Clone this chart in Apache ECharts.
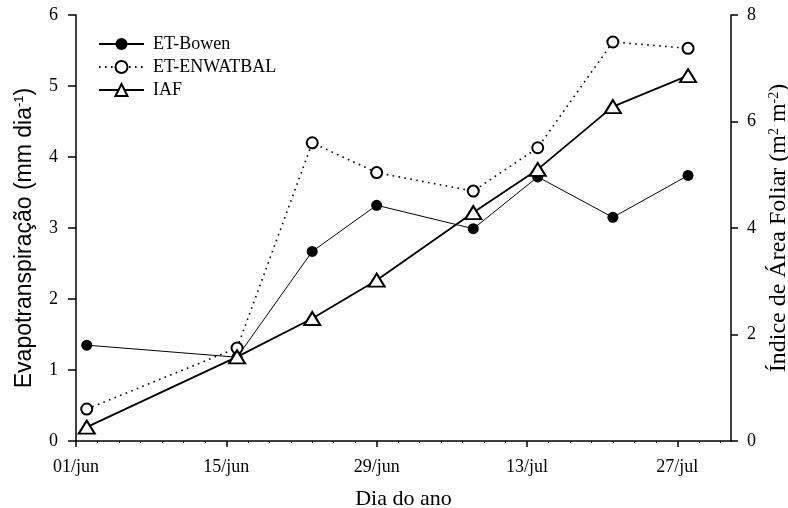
<!DOCTYPE html>
<html>
<head>
<meta charset="utf-8">
<script src="https://cdn.jsdelivr.net/npm/echarts@6/dist/echarts.min.js"></script>
<style>html,body{margin:0;padding:0;background:#fff;}#c{width:788px;height:508px;}</style>
</head>
<body>
<div id="c"></div>
<script>
// Days counted from 01/jun
const days = [1, 15, 22, 28, 37, 43, 50, 57];
const daysIAF = [1, 15, 22, 28, 37, 43, 50, 57];
const etBowen = [1.35, 1.18, 2.67, 3.32, 2.99, 3.72, 3.15, 3.74];
const etEnwatbal = [0.45, 1.31, 4.20, 3.78, 3.52, 4.13, 5.62, 5.53];
const iaf = [0.26, 1.58, 2.30, 3.02, 4.29, 5.10, 6.28, 6.86];
const xTickValues = [0, 14, 28, 42, 56];
const xTickLabels = ['01/jun', '15/jun', '29/jun', '13/jul', '27/jul'];

const serif = 'Liberation Serif';
const sans = 'Liberation Sans';
const pair = (xs, ys) => xs.map((x, i) => [x, ys[i]]);

const chart = echarts.init(document.getElementById('c'), null, {renderer: 'canvas'});
chart.setOption({
  animation: false,
  backgroundColor: '#fff',
  grid: {left: 76, right: 57, top: 15, bottom: 67, containLabel: false, outerBoundsMode: 'none'},
  legend: {
    left: 98, top: 35, orient: 'vertical', padding: 0,
    itemWidth: 45, itemHeight: 15, itemGap: 5,
    textStyle: {fontFamily: serif, fontSize: 18, color: '#000', padding: [0, 0, 0, 4]},
    data: ['ET-Bowen', 'ET-ENWATBAL', 'IAF']
  },
  xAxis: {
    type: 'value', min: 0, max: 61, interval: 14,
    name: 'Dia do ano', nameLocation: 'middle', nameGap: 47,
    nameTextStyle: {fontFamily: serif, fontSize: 22, color: '#000'},
    axisLine: {onZero: false, lineStyle: {color: '#000', width: 1.5}},
    axisTick: {inside: false, length: 6, lineStyle: {color: '#000', width: 1.5}, customValues: xTickValues},
    minorTick: {show: true, splitNumber: 7, length: 2, lineStyle: {color: '#000', width: 1}},
    axisLabel: {customValues: xTickValues, margin: 17, fontFamily: serif, fontSize: 18, color: '#000',
      formatter: v => { const i = xTickValues.indexOf(v); return i >= 0 ? xTickLabels[i] : ''; }},
    splitLine: {show: false}
  },
  yAxis: [
    {
      type: 'value', min: 0, max: 6, interval: 1, position: 'left',
      name: '{a|Evapotranspiração (mm dia}{s|-1}{a|)}', nameLocation: 'middle', nameGap: 40,
      nameTextStyle: {
        padding: [0, 20, 0, 0],
        rich: {
          a: {fontFamily: sans, fontSize: 23, color: '#000'},
          s: {fontFamily: sans, fontSize: 13, color: '#000', verticalAlign: 'top', lineHeight: 14}
        }
      },
      axisLine: {show: true, lineStyle: {color: '#000', width: 1.5}},
      axisTick: {inside: false, length: 8, lineStyle: {color: '#000', width: 1.5}},
      axisLabel: {margin: 18, fontFamily: serif, fontSize: 18, color: '#000'},
      splitLine: {show: false}
    },
    {
      type: 'value', min: 0, max: 8, interval: 2, position: 'right',
      name: '{a|Índice de Área Foliar (m}{s|2}{a| m}{s|-2}{a|)}', nameLocation: 'middle', nameGap: 34,
      nameRotate: 90,
      nameTextStyle: {
        rich: {
          a: {fontFamily: serif, fontSize: 24, color: '#000'},
          s: {fontFamily: serif, fontSize: 14, color: '#000', verticalAlign: 'top', lineHeight: 14}
        }
      },
      axisLine: {show: true, lineStyle: {color: '#000', width: 1.5}},
      axisTick: {inside: false, length: 7, lineStyle: {color: '#000', width: 1.5}},
      axisLabel: {margin: 16, fontFamily: serif, fontSize: 18, color: '#000'},
      splitLine: {show: false}
    }
  ],
  series: [
    {
      name: 'ET-Bowen', type: 'line', yAxisIndex: 0,
      data: pair(days, etBowen),
      symbol: 'circle', symbolSize: 11,
      itemStyle: {color: '#000'},
      lineStyle: {color: '#000', width: 1}
    },
    {
      name: 'ET-ENWATBAL', type: 'line', yAxisIndex: 0,
      data: pair(days, etEnwatbal),
      symbol: 'emptyCircle', symbolSize: 11,
      itemStyle: {color: '#000', borderWidth: 1.2},
      lineStyle: {color: '#000', width: 1.6, type: [1.6, 4.4]}
    },
    {
      name: 'IAF', type: 'line', yAxisIndex: 1,
      data: pair(daysIAF, iaf),
      symbol: 'emptyTriangle', symbolSize: [16, 13],
      itemStyle: {color: '#000', borderWidth: 1.5},
      lineStyle: {color: '#000', width: 1.8}
    }
  ]
});
</script>
</body>
</html>
